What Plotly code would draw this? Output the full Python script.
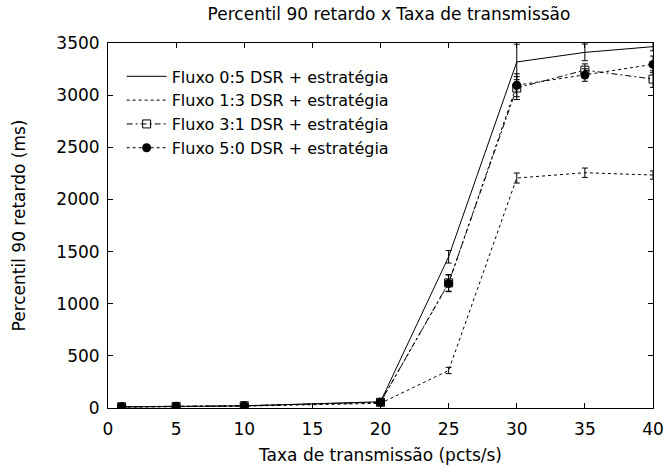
import plotly.graph_objects as go

x = [1, 5, 10, 20, 25, 30, 35, 40]

names = [
    "Fluxo 0:5 DSR + estratégia",
    "Fluxo 1:3 DSR + estratégia",
    "Fluxo 3:1 DSR + estratégia",
    "Fluxo 5:0 DSR + estratégia",
]

y_05 = [10, 15, 20, 60, 1450, 3318, 3410, 3465]
e_05 = [10, 10, 10, 20, 60, 170, 80, 40]

y_13 = [8, 12, 18, 45, 360, 2205, 2256, 2234]
e_13 = [8, 8, 8, 15, 30, 48, 45, 40]

y_31 = [12, 15, 22, 55, 1200, 3068, 3240, 3154]
e_31 = [10, 10, 10, 20, 80, 110, 60, 80]

y_50 = [12, 16, 22, 55, 1195, 3095, 3193, 3295]
e_50 = [10, 10, 10, 20, 80, 110, 60, 80]

series = [
    (y_05, e_05, dict(color="black", width=1, dash="solid"), dict(size=1, symbol="circle", color="black"), "lines"),
    (y_13, e_13, dict(color="black", width=1, dash="dot"), dict(size=1, symbol="circle", color="black"), "lines"),
    (y_31, e_31, dict(color="black", width=1, dash="6px,3px,2px,3px"),
     dict(size=8, symbol="square-open", color="black", line=dict(width=1, color="black")), "lines+markers"),
    (y_50, e_50, dict(color="black", width=1, dash="3px,3px"),
     dict(size=9, symbol="circle", color="black"), "lines+markers"),
]

fig = go.Figure()
for name, (yv, ev, ln, mk, mode) in zip(names, series):
    fig.add_trace(go.Scatter(
        x=x, y=yv, name=name, mode=mode, line=ln, marker=mk,
        error_y=dict(type="data", array=ev, visible=True, color="black", thickness=1, width=3),
    ))

font = "DejaVu Sans, sans-serif"
axis_common = dict(
    ticks="inside", ticklen=5, tickcolor="black", showline=True, linecolor="black",
    linewidth=1, mirror="allticks", showgrid=False, zeroline=False, automargin=False,
    tickfont=dict(size=17), ticklabeloverflow="allow",
)
fig.update_layout(
    width=665, height=467,
    margin=dict(l=108, r=12, t=43, b=59, autoexpand=False),
    paper_bgcolor="white", plot_bgcolor="white",
    font=dict(family=font, size=17, color="black"),
    title=dict(text="Percentil 90 retardo x Taxa de transmissão", x=0.585, xanchor="center",
               y=0.983, yanchor="top", font=dict(size=17)),
    showlegend=True,
    legend=dict(x=0.025, y=0.955, xanchor="left", yanchor="top", bgcolor="rgba(0,0,0,0)",
                font=dict(size=16), tracegroupgap=0, itemwidth=40),
    xaxis=dict(range=[0, 40], tickvals=[0, 5, 10, 15, 20, 25, 30, 35, 40],
               ticklabelstandoff=6,
               title=dict(text="Taxa de transmissão (pcts/s)", standoff=10, font=dict(size=17)),
               **axis_common),
    yaxis=dict(range=[0, 3500], tickvals=[0, 500, 1000, 1500, 2000, 2500, 3000, 3500],
               ticklabelstandoff=4,
               title=dict(text="Percentil 90 retardo (ms)", standoff=26, font=dict(size=17)),
               **axis_common),
)

fig.write_html("out.html", config={"displayModeBar": False},
               post_script="document.body.style.margin='0';document.body.style.padding='0';")
